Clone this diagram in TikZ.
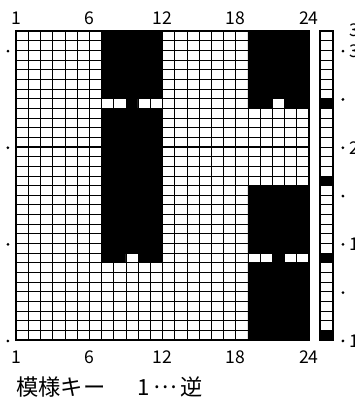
\documentclass[tikz,border=0pt]{standalone}
\usepackage{fontspec}
\newfontfamily\jpfont{Noto Sans CJK JP}
\tikzset{
  num/.style={font=\jpfont\fontsize{15}{15}\selectfont, inner sep=0pt},
  legend/.style={font=\jpfont\fontsize{19}{19}\selectfont, inner sep=0pt, anchor=west},
  spot/.style={circle, fill, inner sep=0pt, minimum size=2.6pt}
}
\begin{document}
\begin{tikzpicture}[x=0.366cm, y=0.2898cm]
  \useasboundingbox (-1.311,-6.522) rectangle (27.787,35.197);
  \fill (7,8) rectangle (12,32) (19,24) rectangle (24,32) (19,0) rectangle (24,16);
  \fill[white] (7,24) rectangle (9,25) (10,24) rectangle (12,25) (9,8) rectangle (10,9)
    (21,24) rectangle (22,25) (19,8) rectangle (21,9) (22,8) rectangle (24,9);
  \foreach \r in {0,8,16,24} \fill (24.95,\r) rectangle ++(1,1);
  \draw[line width=0.45pt, step=1] (0,0) grid (24,32);
  \foreach \r in {1,...,31} \draw[line width=0.45pt] (24.95,\r) -- ++(1,0);
  \foreach \r in {5,10,...,30} \draw[line width=0.8pt] (0,\r) -- (24,\r);
  \foreach \c in {6,12,18} \draw[line width=0.8pt] (\c,0) -- (\c,32);
  \draw[line width=1.6pt] (0,0) rectangle (24,32);
  \draw[line width=1.6pt] (24.95,0) rectangle (25.95,32);
  \foreach \c/\t in {0/1, 6/6, 12/12, 18/18, 24/24} {
    \node[num] (top\t) at (\c,33.28) {\t};
    \node[num] (bot\t) at (\c,-1.81) {\t};
  }
  \foreach \r in {0,10,20,30} \node[spot] (left\r) at (-0.66,\r-0.1) {};
  \foreach \r in {0,5,...,30} \node[spot] (right\r) at (26.8,\r-0.1) {};
  \foreach \r/\t in {0/1, 10/10, 20/20, 30/30} \node[num, anchor=west] (rlab\r) at (27.3,\r-0.1) {\t};
  \node[num, anchor=west] (rlab32) at (27.3,32.1) {32};
  \node[legend] (key) at (0,-4.87) {模様キー};
  \node[legend] (rev) at (9.9,-4.87) {1\,\raisebox{0.3em}{…}\,逆};
\end{tikzpicture}
\end{document}
